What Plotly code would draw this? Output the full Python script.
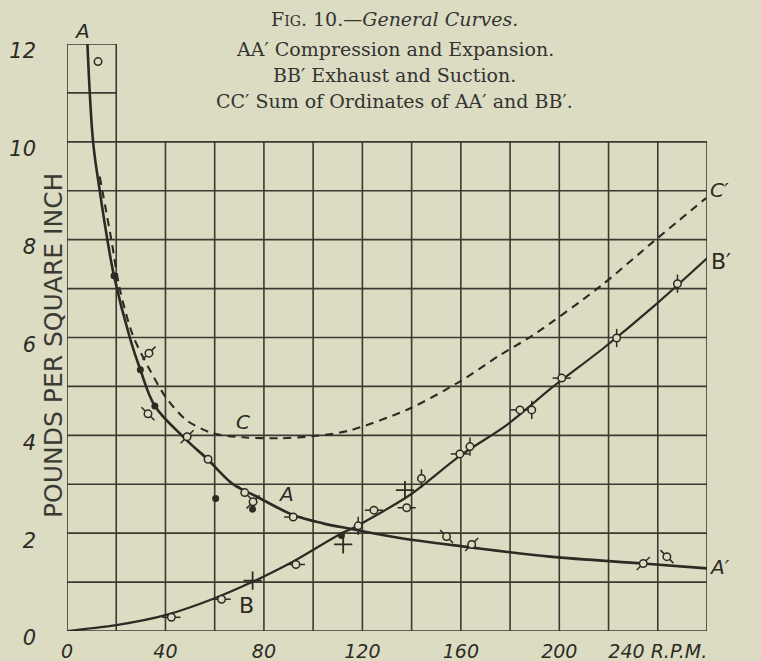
import plotly.graph_objects as go

# ---------------- data ----------------
A_rpm = [8.3, 10.6, 13.3, 16.4, 19.1, 25.5, 29.8, 35.7, 47.2, 57.3, 67.5, 77.0, 91.9, 104.0, 116.0, 135.2, 162.4, 196.2, 234.0, 260.0]
A_psi = [12.0, 10.0, 9.0, 8.0, 7.26, 6.0, 5.34, 4.6, 3.97, 3.5, 3.0, 2.75, 2.37, 2.2, 2.08, 1.9, 1.72, 1.52, 1.38, 1.28]

B_rpm = [0, 20, 40.4, 60, 75.6, 91.9, 111.5, 116, 139.3, 159.6, 178.6, 197.6, 217.9, 238.2, 260]
B_psi = [0, 0.12, 0.33, 0.67, 1.01, 1.42, 2.0, 2.1, 2.78, 3.58, 4.21, 5.0, 5.78, 6.63, 7.62]

C_rpm = [13.3, 18.0, 21.4, 26.7, 33.6, 40.4, 48.5, 59.3, 71.5, 86.5, 101.4, 114.9, 139.3, 159.6, 175.9, 189.4, 216.5, 238.2, 259.6]
C_psi = [9.29, 8.0, 7.0, 6.05, 5.34, 4.76, 4.31, 4.04, 3.96, 3.94, 3.99, 4.1, 4.55, 5.1, 5.64, 6.05, 7.04, 7.96, 8.85]

# observed points (open circles) and the tick drawn on each
obs_rpm = [12.6, 33.3, 32.9, 48.8, 57.3, 72.2, 75.6, 91.9, 118.3, 124.7, 138.0, 144.0, 154.2, 164.4, 159.6, 163.7, 184.0, 188.8, 201.0, 223.3, 248.0, 234.1, 243.7, 42.4, 62.8, 93.0]
obs_psi = [11.64, 5.68, 4.44, 3.97, 3.51, 2.83, 2.64, 2.33, 2.15, 2.47, 2.52, 3.12, 1.93, 1.77, 3.62, 3.77, 4.52, 4.52, 5.17, 5.99, 7.1, 1.38, 1.52, 0.28, 0.65, 1.36]
obs_tick = ["none", "flag", "nw", "flag", "nw", "nw", "flag", "ew", "ns", "ew", "ew", "ns", "nw", "flag",
            "ew", "ns", "ew", "ns", "ew", "ns", "ns", "flag", "nw", "ew", "ew", "ew"]

dot_rpm = [19.1, 29.8, 35.7, 60.4, 75.4, 111.5]
dot_psi = [7.26, 5.34, 4.6, 2.71, 2.49, 1.95]

cross_rpm = [137.3, 112.2, 75.4]
cross_psi = [2.88, 1.77, 1.03]

x_ticks = [0, 40, 80, 120, 160, 200, 240]
x_ticktext = ["0", "40", "80", "120", "160", "200", "240 R.P.M."]
y_ticks = [0, 2, 4, 6, 8, 10, 12]
y_ticktext = ["0", "2", "4", "6", "8", "10", "12"]

grid_x = list(range(0, 261, 20))
grid_y = list(range(0, 11))
box_x = [0, 20]
box_y = [11, 12]

X_MAX = 260
Y_MAX = 12

title_lines = [
    "F<span style='font-size:14px'>IG</span>. 10.—<i>General Curves.</i>",
    "AA′ Compression and Expansion.",
    "BB′ Exhaust and Suction.",
    "CC′ Sum of Ordinates of AA′ and BB′.",
]

# curve letters: (text, rpm, psi, upright?)
labels = [("A", 6, 12.27, False), ("C", 71.5, 4.28, False), ("A", 89, 2.8, False),
          ("B", 73, 0.53, True), ("A′", 265, 1.3, False), ("B′", 265.5, 7.55, True),
          ("C′", 265, 9.02, False)]

# ---------------- style ----------------
BG = "#dcdcc3"
INK = "#2b2b24"
GRID = "#3a3a31"

fig = go.Figure()

shapes = []
for gx in grid_x:
    top = 12 if gx in box_x else 10
    shapes.append(dict(type="line", xref="x", yref="y", x0=gx, x1=gx, y0=0, y1=top,
                       line=dict(color=GRID, width=1.6), layer="below"))
for gy in grid_y:
    shapes.append(dict(type="line", xref="x", yref="y", x0=0, x1=260, y0=gy, y1=gy,
                       line=dict(color=GRID, width=1.6), layer="below"))
for gy in box_y:
    shapes.append(dict(type="line", xref="x", yref="y", x0=0, x1=20, y0=gy, y1=gy,
                       line=dict(color=GRID, width=1.6), layer="below"))

fig.add_trace(go.Scatter(x=C_rpm, y=C_psi, mode="lines", line=dict(color=INK, width=2.1, dash="8px,6px", shape="spline", smoothing=0.8),
                         hoverinfo="skip", showlegend=False, cliponaxis=False))
fig.add_trace(go.Scatter(x=B_rpm, y=B_psi, mode="lines", line=dict(color=INK, width=2.2, shape="spline", smoothing=0.8),
                         hoverinfo="skip", showlegend=False, cliponaxis=False))
fig.add_trace(go.Scatter(x=A_rpm, y=A_psi, mode="lines", line=dict(color=INK, width=2.6, shape="spline", smoothing=1.0),
                         hoverinfo="skip", showlegend=False, cliponaxis=False))

sym_map = {"ew": "line-ew", "ns": "line-ns", "nw": "line-nw", "flag": "line-ne"}
for kind, sym in sym_map.items():
    xs = [x for x, t in zip(obs_rpm, obs_tick) if t == kind]
    ys = [y for y, t in zip(obs_psi, obs_tick) if t == kind]
    fig.add_trace(go.Scatter(x=xs, y=ys, mode="markers",
                             marker=dict(symbol=sym, size=13, line=dict(color=INK, width=1.5)),
                             hoverinfo="skip", showlegend=False, cliponaxis=False))

fig.add_trace(go.Scatter(x=obs_rpm, y=obs_psi, mode="markers",
                         marker=dict(symbol="circle", size=7.5, color=BG, line=dict(color=INK, width=1.5)),
                         hoverinfo="skip", showlegend=False, cliponaxis=False))
fig.add_trace(go.Scatter(x=dot_rpm, y=dot_psi, mode="markers",
                         marker=dict(symbol="circle", size=7, color=INK),
                         hoverinfo="skip", showlegend=False, cliponaxis=False))
fig.add_trace(go.Scatter(x=cross_rpm, y=cross_psi, mode="markers",
                         marker=dict(symbol="cross-thin", size=13, line=dict(color=INK, width=1.8)),
                         hoverinfo="skip", showlegend=False, cliponaxis=False))

annotations = []
title_y = [1.0426, 0.9915, 0.947, 0.903]
for txt, ty in zip(title_lines, title_y):
    annotations.append(dict(text=txt, xref="paper", yref="paper", x=0.512, y=ty,
                            xanchor="center", yanchor="middle", showarrow=False,
                            font=dict(family="DejaVu Serif", size=19, color="#333330")))
annotations.append(dict(text="POUNDS PER SQUARE INCH", xref="paper", yref="paper", x=-0.02, y=5.83 / Y_MAX,
                        xanchor="center", yanchor="middle", textangle=-90, showarrow=False,
                        font=dict(family="DejaVu Sans", size=25, color="#3a3a33")))
hand = dict(family="DejaVu Sans", size=20, color=INK, style="italic")
upr = dict(family="DejaVu Sans", size=22, color=INK)
for txt, x, y, upright in labels:
    # paper coordinates so labels outside the axis ranges are still drawn
    annotations.append(dict(text=txt, xref="paper", yref="paper", x=x / X_MAX, y=y / Y_MAX,
                            xanchor="center", yanchor="middle", showarrow=False,
                            font=upr if upright else hand))

fig.update_layout(
    width=761, height=661, autosize=False,
    margin=dict(l=67, r=54, t=44, b=30),
    paper_bgcolor=BG, plot_bgcolor=BG,
    shapes=shapes, annotations=annotations,
    xaxis=dict(range=[0, X_MAX], showgrid=False, zeroline=False, showline=False, ticks="", automargin=False,
               tickvals=x_ticks, ticktext=x_ticktext, ticklabelstandoff=7,
               tickfont=dict(family="DejaVu Sans", size=19, color=INK, style="italic"), fixedrange=True),
    yaxis=dict(range=[0, Y_MAX], showgrid=False, zeroline=False, showline=False, ticks="", automargin=False,
               tickvals=y_ticks, ticktext=y_ticktext, ticklabelstandoff=30, ticklabelshift=7,
               tickfont=dict(family="DejaVu Sans", size=21, color=INK, style="italic"), fixedrange=True),
)

fig.write_html("out.html", config={"displayModeBar": False})
